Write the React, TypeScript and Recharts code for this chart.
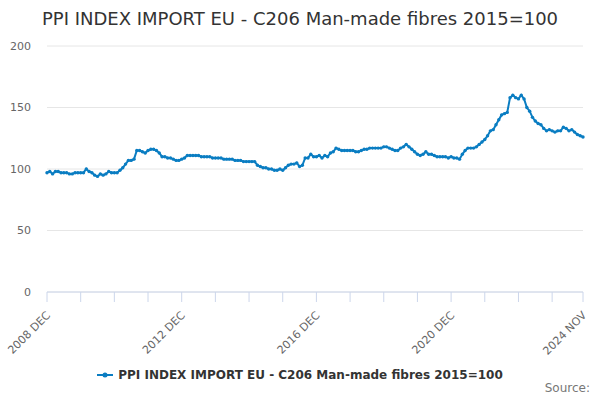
import { LineChart, Line, XAxis, YAxis, CartesianGrid, Legend } from 'recharts';

const TITLE = 'PPI INDEX IMPORT EU - C206 Man-made fibres 2015=100';
const SERIES_NAME = 'PPI INDEX IMPORT EU - C206 Man-made fibres 2015=100';
const COLOR = '#0a7dc2';
const FONT = '"DejaVu Sans", "Lucida Grande", Arial, sans-serif';

const monthNames = ['JAN', 'FEB', 'MAR', 'APR', 'MAY', 'JUN', 'JUL', 'AUG', 'SEP', 'OCT', 'NOV', 'DEC'];
const startYear = 2008;
const startMonth = 11; // DEC

// monthly index, 2008 DEC .. 2024 NOV (one row per Dec..Nov year)
const values = [
    97, 98, 96, 98, 98, 97, 97, 97, 96, 96, 97, 97,
    97, 97, 100, 98, 97, 95, 94, 96, 95, 96, 98, 97,
    97, 97, 99, 101, 104, 107, 107, 108, 115, 115, 114, 113,
    115, 116, 116, 115, 113, 110, 110, 109, 109, 108, 107, 107,
    108, 109, 111, 111, 111, 111, 111, 110, 110, 110, 110, 109,
    109, 109, 109, 108, 108, 108, 108, 107, 107, 107, 106, 106,
    106, 106, 106, 103, 102, 101, 101, 100, 100, 99, 99, 100,
    99, 101, 103, 104, 104, 105, 102, 103, 109, 109, 112, 110,
    110, 111, 109, 111, 110, 113, 114, 117, 116, 115, 115, 115,
    115, 115, 114, 114, 115, 116, 116, 117, 117, 117, 117, 117,
    118, 118, 117, 116, 115, 115, 117, 118, 120, 118, 116, 114,
    112, 111, 112, 114, 112, 112, 111, 110, 110, 110, 110, 109,
    110, 109, 109, 108, 112, 115, 117, 117, 117, 118, 120, 122,
    124, 127, 131, 132, 136, 140, 144, 145, 146, 158, 160, 158,
    157, 160, 157, 150, 147, 142, 139, 137, 136, 133, 131, 132,
    131, 130, 131, 131, 134, 133, 131, 132, 130, 128, 127, 126,
];

const categories = values.map((_, i) => {
    const m = startMonth + i;
    return `${startYear + Math.floor(m / 12)} ${monthNames[m % 12]}`;
});

const tickIndexes = [0, 12, 24, 36, 48, 60, 72, 84, 96, 108, 120, 132, 144, 156, 168, 180, 191];
const labelIndexes = [0, 48, 96, 144, 191];
const yTicks = [0, 50, 100, 150, 200];

const data = values.map((v, i) => ({ idx: i, month: categories[i], value: v }));

function XTick(props: any) {
    const { x, y, payload } = props;
    if (!labelIndexes.includes(payload.value)) return null;
    return (
        <g transform={`translate(${x + 4},${y + 12})`}>
            <text x={0} y={0} textAnchor="end" fill="#666" fontSize={11} fontFamily={FONT} transform="rotate(-45)">
                {categories[payload.value]}
            </text>
        </g>
    );
}

function LegendContent() {
    return (
        <div style={{ display: 'flex', justifyContent: 'center', alignItems: 'center', fontFamily: FONT, fontSize: 12, fontWeight: 'bold', color: '#333' }}>
            <svg width={16} height={10} style={{ marginRight: 5 }}>
                <line x1={0} y1={5} x2={16} y2={5} stroke={COLOR} strokeWidth={2} />
                <circle cx={8} cy={5} r={2.5} fill={COLOR} />
            </svg>
            <span>{SERIES_NAME}</span>
        </div>
    );
}

export default function App() {
    return (
        <div style={{ position: 'absolute', left: 0, top: 0, width: 600, height: 400, background: '#fff', fontFamily: FONT }}>
            <div style={{ position: 'absolute', left: 0, top: 8, width: 600, textAlign: 'center', fontSize: 18, color: '#333' }}>
                {TITLE}
            </div>
            <LineChart width={600} height={400} data={data} margin={{ top: 46, right: 17, left: 0, bottom: 12 }}>
                <CartesianGrid vertical={false} stroke="#e6e6e6" />
                <XAxis
                    dataKey="idx"
                    type="number"
                    domain={[0, 191]}
                    ticks={tickIndexes}
                    interval={0}
                    height={76}
                    tickSize={10}
                    axisLine={{ stroke: '#ccd6eb' }}
                    tickLine={{ stroke: '#ccd6eb' }}
                    tick={<XTick />}
                />
                <YAxis
                    domain={[0, 200]}
                    ticks={yTicks}
                    width={47}
                    axisLine={false}
                    tickLine={false}
                    tickMargin={10}
                    tick={{ fill: '#666', fontSize: 11, fontFamily: FONT }}
                />
                <Legend
                    verticalAlign="bottom"
                    height={20}
                    wrapperStyle={{ left: 0, width: 600 }}
                    content={<LegendContent />}
                />
                <Line
                    type="linear"
                    dataKey="value"
                    name={SERIES_NAME}
                    stroke={COLOR}
                    strokeWidth={2}
                    dot={{ r: 1.7, fill: COLOR, stroke: 'none' }}
                    isAnimationActive={false}
                />
            </LineChart>
            <div style={{ position: 'absolute', right: 10, top: 381, fontSize: 12, color: '#777' }}>Source:</div>
        </div>
    );
}
